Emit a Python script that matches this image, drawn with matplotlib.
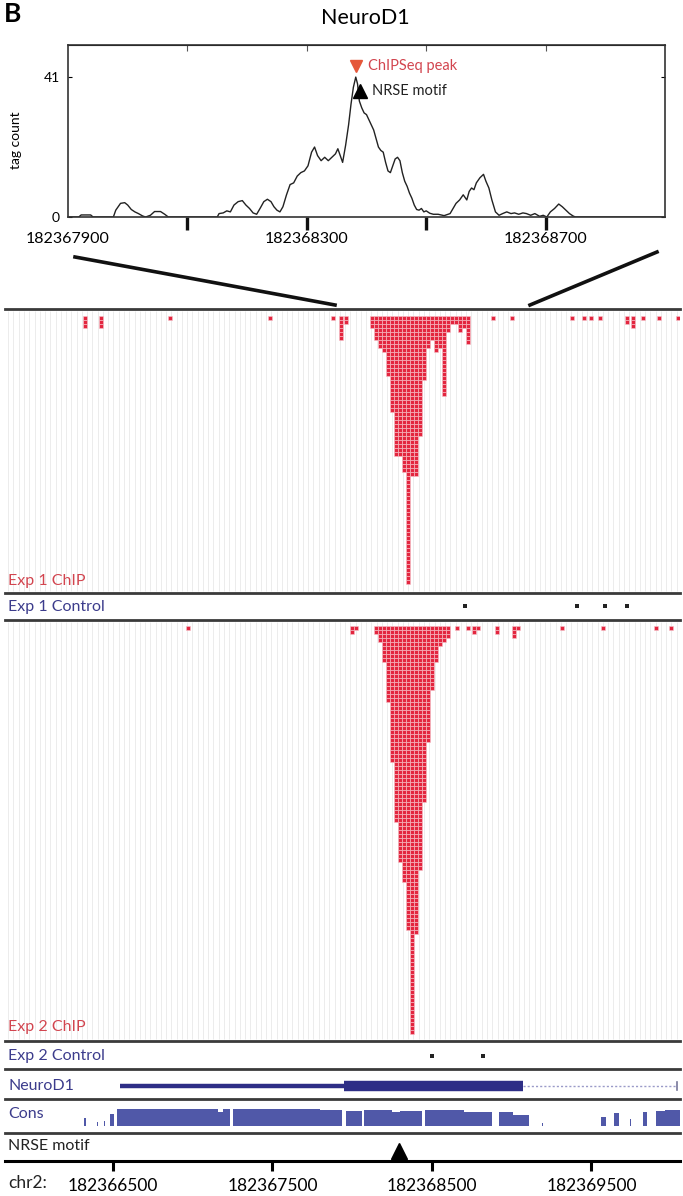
import numpy as np
import matplotlib
matplotlib.use("Agg")
import matplotlib.pyplot as plt
from matplotlib.lines import Line2D

plt.rcParams['font.family'] = ['Lato', 'DejaVu Sans']

W, H = 683, 1196

# ---------------- top panel: tag count near the peak ----------------
TOP_START = 182367900
tag_offset = [0, 18, 22, 38, 42, 76, 80, 88, 95, 100,
              106, 112, 118, 125, 130, 138, 145, 155, 162, 168,
              250, 253, 260, 266, 272, 278, 285, 292, 298, 304,
              310, 316, 322, 328, 334, 340, 345, 350, 355, 360,
              366, 372, 378, 384, 390, 396, 402, 408, 413, 418,
              424, 430, 436, 442, 448, 452, 456, 460, 465, 470,
              474, 478, 482, 485, 488, 492, 496, 500, 504, 508,
              512, 516, 520, 524, 528, 532, 536, 540, 544, 548,
              552, 556, 560, 564, 568, 572, 576, 580, 584, 588,
              592, 596, 600, 606, 612, 620, 630, 640, 645, 650,
              656, 662, 668, 672, 676, 680, 684, 690, 696, 700,
              705, 710, 716, 722, 728, 735, 742, 748, 755, 762,
              768, 775, 782, 790, 796, 802, 808, 815, 822, 828,
              834, 840, 846, 850, 1000]
tag_count = [0, 0, 0.6, 0.6, 0, 0, 2, 4, 4.2, 3.5,
             2.2, 1.5, 1, 0.3, 0, 0.5, 1.6, 1.6, 0.8, 0,
             0, 1, 1.2, 1.8, 1.5, 3.5, 4.5, 4.8, 3.5, 2.5,
             1.2, 0.8, 2.6, 4.5, 5.2, 4.5, 3, 2, 1.5, 3,
             6.5, 9.5, 10, 12, 13, 13.5, 15, 19, 20.5, 18,
             16.5, 17.5, 16.5, 17.5, 18.5, 20, 18, 16, 21, 27,
             33, 38, 41, 39, 34, 32, 30.5, 30, 28.5, 27,
             25.5, 23, 20.5, 19.5, 19, 16, 13.5, 13, 15, 17,
             17.5, 16.5, 13, 10.5, 9, 7, 5.5, 3.5, 2.2, 2,
             2.5, 1.5, 1.8, 1.1, 0.8, 0.8, 0.4, 1, 2.5, 4,
             5, 6.5, 5, 7.5, 8.5, 8, 10, 11.5, 12.5, 10.5,
             8.5, 5, 1.5, 0.5, 1, 1.5, 1, 1.2, 0.8, 1.2,
             1, 0.5, 1, 0.2, 0.5, 0, 1.5, 2.5, 3.8, 3,
             2, 1, 0.3, 0, 0]
peak_offset, peak_y = 482, 44.2
motif_offset, motif_y = 489, 37.0
top_label_pos = [182367900, 182368300, 182368700]
top_tick_pos = [182368100, 182368300, 182368500, 182368700]

# ---------------- browser tracks ----------------
exp1_pos = [182366324, 182366425, 182366857, 182367484, 182367879, 182367930, 182367961,
            182368124, 182368149, 182368174, 182368199, 182368224, 182368249, 182368274,
            182368299, 182368324, 182368350, 182368375, 182368400, 182368425, 182368450,
            182368475, 182368500, 182368525, 182368550, 182368575, 182368600, 182368625,
            182368650, 182368675, 182368700, 182368725,
            182368882, 182369002, 182369378, 182369453, 182369497, 182369553, 182369723,
            182369760, 182369823, 182369923, 182370042]
exp1_depth = [3, 3, 1, 1, 1, 6, 2,
              3, 6, 8, 9, 15, 24, 35,
              35, 39, 67, 40, 40, 30, 16,
              8, 6, 9, 8, 20, 4, 2,
              2, 4, 3, 7,
              1, 1, 1, 1, 1, 1, 2,
              3, 1, 1, 1]
exp1_ctrl = [182368707, 182369409, 182369585, 182369723]

exp2_pos = [182366970, 182367998, 182368023,
            182368149, 182368174, 182368199, 182368224, 182368249, 182368274, 182368299,
            182368324, 182368350, 182368375, 182368400, 182368425, 182368450, 182368475,
            182368500, 182368525, 182368550, 182368575, 182368600,
            182368657, 182368726, 182368764, 182368789, 182368907, 182369014, 182369039,
            182369315, 182369572, 182369904, 182369998]
exp2_depth = [1, 2, 1,
              2, 4, 9, 19, 34, 49, 59,
              64, 76, 102, 77, 61, 44, 29,
              16, 9, 5, 4, 3,
              1, 1, 2, 1, 2, 3, 1,
              1, 1, 1, 1]
exp2_ctrl = [182368500, 182368820]

gene_utr = (182366544, 182367948)
gene_cds = (182367948, 182369071)
gene_intron = (182369071, 182370036)

cons_start = [182366318, 182366400, 182366444, 182366481, 182366525, 182367160, 182367190,
              182367252, 182367800, 182367961, 182368074, 182368250, 182368300, 182368456,
              182368700, 182368920, 182369010, 182369190, 182369560, 182369641, 182369741,
              182369823, 182369904, 182369960]
cons_end = [182366330, 182366408, 182366452, 182366506, 182367160, 182367190, 182367234,
            182367800, 182367936, 182368061, 182368250, 182368300, 182368437, 182368700,
            182368876, 182369010, 182369108, 182369196, 182369591, 182369672, 182369750,
            182369848, 182369960, 182370055]
cons_height = [0.5, 0.25, 0.3, 0.7, 1.0, 0.85, 1.0,
               1.0, 0.95, 0.9, 0.95, 0.8, 0.9, 0.95,
               0.85, 0.85, 0.65, 0.2, 0.55, 0.75, 0.4,
               0.8, 0.9, 0.95]
motif_site = 182368293
chr_ticks = [182366500, 182367500, 182368500, 182369500]

RED = '#e3263f'
LRED = '#d2454f'
BLUE = '#3c3c8c'
GENE = '#2e2e86'
CONS = '#5058a8'
SEP = '#3a3a3a'
XL = (182365823, 182370055)
LAB = 11.5


def px_axes(x0, y0, x1, y1):
    return fig.add_axes([x0 / W, 1 - y1 / H, (x1 - x0) / W, (y1 - y0) / H])


def px_text(x, y, s, **kw):
    fig.text(x / W, 1 - y / H, s, **kw)


fig = plt.figure(figsize=(W / 100, H / 100), dpi=100)

# ---- top panel ----
ax = px_axes(68, 45, 665, 217)
xs = [TOP_START + o for o in tag_offset]
ax.plot(xs, tag_count, color='#222222', lw=1.0)
ax.set_xlim(TOP_START, TOP_START + 1000)
ax.set_ylim(0, 50.4)
for s in ax.spines.values():
    s.set_color('#333333')
    s.set_linewidth(1.2)
ax.set_yticks([0, 41])
ax.tick_params(axis='y', direction='in', length=3, labelsize=10, right=True, pad=6)
ax.xaxis.remove_overlapping_locs = False
ax.set_xticks(top_tick_pos)
ax.set_xticklabels([])
ax.tick_params(axis='x', which='major', direction='out', length=9, width=2.4, color='#111111')
ax.set_xticks(top_label_pos, minor=True)
ax.set_xticklabels([str(p) for p in top_label_pos], minor=True)
ax.tick_params(axis='x', which='minor', length=0, labelsize=11.5, pad=11)
sec = ax.secondary_xaxis('top')
sec.set_xticks(top_tick_pos)
sec.set_xticklabels([])
sec.tick_params(direction='in', length=4, color='#555555')
ax.plot([TOP_START + peak_offset], [peak_y], marker='v', color='#e5573a', ms=9, clip_on=False)
ax.plot([TOP_START + motif_offset], [motif_y], marker='^', color='black', ms=10, clip_on=False)
ax.text(TOP_START + peak_offset + 20, peak_y, 'ChIPSeq peak', color=LRED, fontsize=10.5, va='center')
ax.text(TOP_START + motif_offset + 20, motif_y, 'NRSE motif', color='#222222', fontsize=10.5, va='center')

px_text(365, 18, 'NeuroD1', fontsize=15.5, ha='center', va='center')
px_text(4, 14, 'B', fontsize=19, fontweight='bold', ha='left', va='center')
px_text(16, 140, 'tag count', fontsize=10, rotation=90, ha='center', va='center')

# zoom connector lines
fig.add_artist(Line2D([75 / W, 200 / W, 335 / W], [1 - 257 / H, 1 - 280 / H, 1 - 305 / H],
                      transform=fig.transFigure, color='#111111', lw=2.6))
fig.add_artist(Line2D([530 / W, 657 / W], [1 - 305 / H, 1 - 252 / H],
                      transform=fig.transFigure, color='#111111', lw=2.6))


def track(y0, y1, top=False):
    a = px_axes(5, y0, 680, y1)
    a.set_xlim(*XL)
    a.set_xticks([])
    a.set_yticks([])
    for side in ['left', 'right', 'top']:
        a.spines[side].set_visible(False)
    if top:
        a.spines['top'].set_visible(True)
        a.spines['top'].set_linewidth(2)
        a.spines['top'].set_color(SEP)
    a.spines['bottom'].set_linewidth(2)
    a.spines['bottom'].set_color(SEP)
    a.patch.set_alpha(0)
    return a


def draw_reads(a, pos, depth):
    lo, hi = a.get_ylim()
    a.vlines(np.arange(XL[0] + 20, XL[1], 33), hi + 0.6, lo - 0.6,
             color='#e9e9e9', lw=0.6, zorder=0)
    xr = np.repeat(pos, depth)
    rows = np.concatenate([np.arange(d) for d in depth])
    a.bar(xr, 1.0, bottom=rows, width=25, color=RED, edgecolor='#f7c4cc',
          linewidth=0.4, align='center', zorder=2)


# Exp 1 ChIP
a1 = track(309, 593, top=True)
a1.set_ylim(69.25, -1.75)
draw_reads(a1, exp1_pos, exp1_depth)
px_text(8, 581, 'Exp 1 ChIP', fontsize=LAB, color=LRED, va='center')

# Exp 1 Control
c1 = track(593, 620)
c1.set_ylim(27, 0)
c1.bar(exp1_ctrl, 4, bottom=11.5, width=24, color='#222222')
px_text(8, 607, 'Exp 1 Control', fontsize=LAB, color=BLUE, va='center')

# Exp 2 ChIP
a2 = track(620, 1041)
a2.set_ylim(103.75, -1.5)
draw_reads(a2, exp2_pos, exp2_depth)
px_text(8, 1027, 'Exp 2 ChIP', fontsize=LAB, color=LRED, va='center')

# Exp 2 Control
c2 = track(1041, 1069)
c2.set_ylim(28, 0)
c2.bar(exp2_ctrl, 4, bottom=13, width=24, color='#222222')
px_text(8, 1056, 'Exp 2 Control', fontsize=LAB, color=BLUE, va='center')

# gene model
g = track(1069, 1099)
g.set_ylim(30, 0)
g.plot(gene_utr, [17, 17], color=GENE, lw=3.2, solid_capstyle='butt')
g.plot(gene_cds, [17, 17], color=GENE, lw=7.5, solid_capstyle='butt')
g.plot(gene_intron, [17, 17], color='#9a9ac8', lw=1.0, ls=(0, (1.5, 1.5)))
g.plot([gene_intron[1], gene_intron[1]], [13, 21], color='#777799', lw=1.2)
px_text(8, 1086, 'NeuroD1', fontsize=LAB, color=BLUE, va='center')

# conservation
cs = track(1099, 1133)
cs.set_ylim(0, 34)
cs.bar(cons_start, [h * 17 for h in cons_height], bottom=7,
       width=[e - s for s, e in zip(cons_start, cons_end)], align='edge', color=CONS)
px_text(8, 1114, 'Cons', fontsize=LAB, color=BLUE, va='center')

# NRSE motif + chromosome axis
m = track(1133, 1161)
m.set_ylim(0, 28)
m.plot([motif_site], [10], marker='^', color='black', ms=12)
m.spines['bottom'].set_color('black')
m.spines['bottom'].set_linewidth(2.2)
m.set_xticks(chr_ticks)
m.set_xticklabels([str(t) for t in chr_ticks])
m.tick_params(axis='x', direction='out', length=7, width=2.2, labelsize=12.5, pad=5)
px_text(8, 1146, 'NRSE motif', fontsize=LAB, color='#222222', va='center')
px_text(8, 1183, 'chr2:', fontsize=12.5, color='#222222', va='center')

fig.savefig('out.png', dpi=100)
